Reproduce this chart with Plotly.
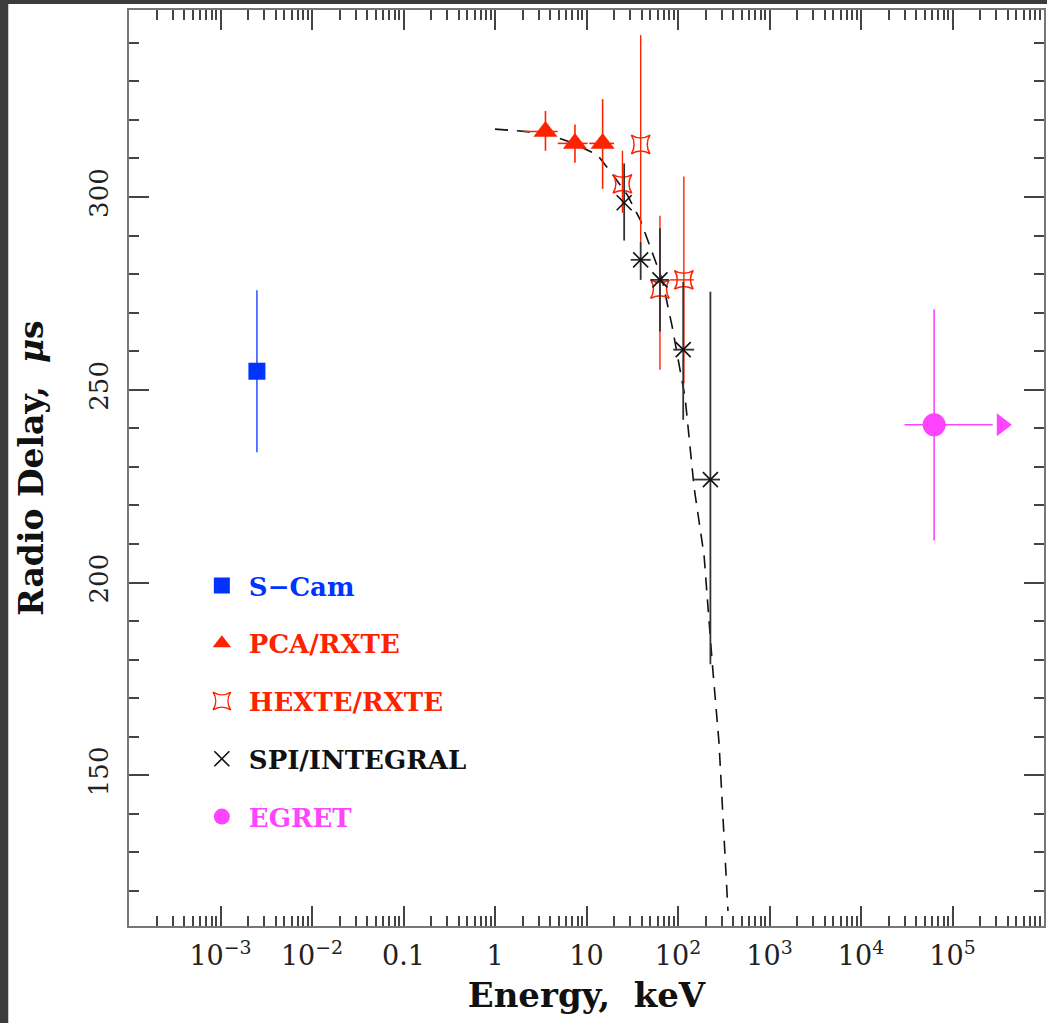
import plotly.graph_objects as go

# ---------------- data ----------------
scam_E = [2.5e-3]
scam_delay = [254.8]
scam_err = [21.0]

pca_E = [3.56, 7.48, 15.0]
pca_delay = [317.0, 313.9, 313.9]
pca_err_plus = [5.3, 4.9, 11.5]
pca_err_minus = [5.0, 5.0, 11.8]
pca_E_minus = [1.54, 2.63, 4.3]
pca_E_plus = [1.29, 2.8, 5.0]

hexte_E = [24.7, 39.1, 63.5, 115.9]
hexte_delay = [303.4, 313.6, 276.1, 278.5]
hexte_err_plus = [8.6, 28.4, 19.0, 26.8]
hexte_err_minus = [7.5, 25.2, 20.9, 26.8]
hexte_E_minus = [0, 0, 0, 33.9]
hexte_E_plus = [0, 0, 0, 33.1]

spi_E = [25.8, 39.1, 63.5, 114.0, 226.0]
spi_delay = [298.5, 283.7, 278.5, 260.4, 226.7]
spi_err_plus = [10.2, 4.7, 13.4, 17.6, 48.7]
spi_err_minus = [9.8, 5.2, 13.4, 18.2, 47.9]
spi_E_minus = [0, 8.7, 13.5, 25.3, 76.0]
spi_E_plus = [0, 11.2, 16.0, 36.0, 62.0]

egret_E = [6.3e4]
egret_delay = [240.9]
egret_err = [30.0]
egret_E_minus = [3.31e4]
egret_E_plus = [2.12e5]
egret_arrow_E = [3.46e5]

model_E = [1.0, 3.5, 7.06, 13.2, 20.2, 28.0, 38.8, 49.8, 67.3, 86.5,
           119.7, 150.0, 192.7, 235.5, 280.6, 326.3, 351.7]
model_delay = [317.6, 316.6, 314.0, 310.9, 305.2, 300.5, 294.0, 287.0, 278.5, 266.3,
               247.9, 224.6, 207.0, 179.8, 158.5, 129.3, 114.8]

x_tickvals = [1e-3, 1e-2, 0.1, 1, 10, 1e2, 1e3, 1e4, 1e5]
x_ticktext = ["10<sup>−3</sup>", "10<sup>−2</sup>", "0.1", "1", "10",
              "10<sup>2</sup>", "10<sup>3</sup>", "10<sup>4</sup>", "10<sup>5</sup>"]
y_tickvals = [150, 200, 250, 300]

BLUE = "#0033ff"
RED = "#ff2200"
MAG = "#ff44ff"
BLK = "#111111"

fig = go.Figure()

fig.add_trace(go.Scatter(
    x=model_E, y=model_delay, mode="lines",
    line=dict(color=BLK, width=1.6, dash="13px,9px"),
    showlegend=False, hoverinfo="skip"))

fig.add_trace(go.Scatter(
    x=scam_E, y=scam_delay, mode="markers",
    name="<span style='color:%s'>S−Cam</span>" % BLUE, legendgroup="a",
    marker=dict(symbol="square", size=17, color=BLUE),
    error_y=dict(type="data", array=scam_err, color="#4d6bff", thickness=1.8, width=0)))

fig.add_trace(go.Scatter(
    x=pca_E, y=pca_delay, mode="markers",
    name="<span style='color:%s'>PCA/RXTE</span>" % RED, legendgroup="b",
    marker=dict(symbol="triangle-up", size=21, color=RED),
    error_y=dict(type="data", symmetric=False, array=pca_err_plus, arrayminus=pca_err_minus,
                 color=RED, thickness=1.6, width=0),
    error_x=dict(type="data", symmetric=False, array=pca_E_plus, arrayminus=pca_E_minus,
                 color=RED, thickness=1.6, width=0)))

fig.add_trace(go.Scatter(
    x=hexte_E, y=hexte_delay, mode="markers",
    name="<span style='color:%s'>HEXTE/RXTE</span>" % RED, legendgroup="c",
    marker=dict(symbol="star-square-open", size=17, color=RED, line=dict(width=1.5, color=RED)),
    error_y=dict(type="data", symmetric=False, array=hexte_err_plus, arrayminus=hexte_err_minus,
                 color=RED, thickness=1.4, width=0),
    error_x=dict(type="data", symmetric=False, array=hexte_E_plus, arrayminus=hexte_E_minus,
                 color=RED, thickness=1.4, width=0)))

fig.add_trace(go.Scatter(
    x=spi_E, y=spi_delay, mode="markers",
    name="<span style='color:%s'>SPI/INTEGRAL</span>" % BLK, legendgroup="d",
    marker=dict(symbol="x-thin-open", size=15, color=BLK, line=dict(width=1.6, color=BLK)),
    error_y=dict(type="data", symmetric=False, array=spi_err_plus, arrayminus=spi_err_minus,
                 color="#333333", thickness=1.8, width=0),
    error_x=dict(type="data", symmetric=False, array=spi_E_plus, arrayminus=spi_E_minus,
                 color="#333333", thickness=1.8, width=0)))

fig.add_trace(go.Scatter(
    x=egret_E, y=egret_delay, mode="markers",
    name="<span style='color:%s'>EGRET</span>" % MAG, legendgroup="e",
    marker=dict(symbol="circle", size=23, color=MAG),
    error_y=dict(type="data", array=egret_err, color=MAG, thickness=1.6, width=0),
    error_x=dict(type="data", symmetric=False, array=egret_E_plus, arrayminus=egret_E_minus,
                 color=MAG, thickness=1.6, width=0)))

fig.add_trace(go.Scatter(
    x=egret_arrow_E, y=egret_delay, mode="markers",
    marker=dict(symbol="triangle-right", size=20, color=MAG),
    showlegend=False, hoverinfo="skip"))

# minor tick positions (axis decoration)
x_minor = [k * 10.0 ** n for n in range(-4, 6) for k in range(2, 10)]

AX = "#777777"
TK = "#444444"
SERIF = "DejaVu Serif"

fig.update_layout(
    width=1047, height=1023,
    margin=dict(l=129, r=1, t=10, b=97),
    paper_bgcolor="#3c3c3c",
    plot_bgcolor="white",
    font=dict(family=SERIF, color="#111111"),
    shapes=[dict(type="rect", xref="paper", yref="paper",
                 x0=(8 - 129) / 917, x1=1.01, y0=-0.12, y1=(926 - 4) / 916,
                 fillcolor="white", line=dict(width=0), layer="below")],
    legend=dict(x=(195 - 129) / 917, y=(926 - 562) / 916, xanchor="left", yanchor="top",
                bgcolor="rgba(0,0,0,0)",
                font=dict(family=SERIF, size=26, weight="bold"),
                tracegroupgap=21, itemsizing="trace", itemwidth=44),
    xaxis=dict(
        type="log", range=[-4, 6],
        tickmode="array", tickvals=x_tickvals, ticktext=x_ticktext,
        ticks="inside", ticklen=20, tickwidth=1.5, tickcolor=TK,
        minor=dict(tickmode="array", tickvals=x_minor, ticks="inside", ticklen=10,
                   tickwidth=1.5, tickcolor=TK),
        showline=True, linecolor=AX, linewidth=2, mirror="allticks",
        showgrid=False, zeroline=False, ticklabelstandoff=5,
        tickfont=dict(family=SERIF, size=27, color="#222222"),
        title=dict(text="<b>Energy,  keV</b>", font=dict(family=SERIF, size=34, color="#111111"),
                   standoff=13)),
    yaxis=dict(
        range=[110.9, 348.5],
        tickmode="array", tickvals=y_tickvals,
        ticks="inside", ticklen=20, tickwidth=1.5, tickcolor=TK,
        minor=dict(dtick=10, tick0=0, ticks="inside", ticklen=10, tickwidth=1.5, tickcolor=TK),
        showline=True, linecolor=AX, linewidth=2, mirror="allticks",
        showgrid=False, zeroline=False, tickangle=-90, ticklabelstandoff=9,
        tickfont=dict(family=SERIF, size=26, color="#222222"),
        title=dict(text="<b>Radio Delay,  <i>μ</i>s</b>",
                   font=dict(family=SERIF, size=33, color="#111111"), standoff=30)),
)

fig.write_html("out.html", config={"displayModeBar": False},
               post_script="document.body.style.margin='0px';")
